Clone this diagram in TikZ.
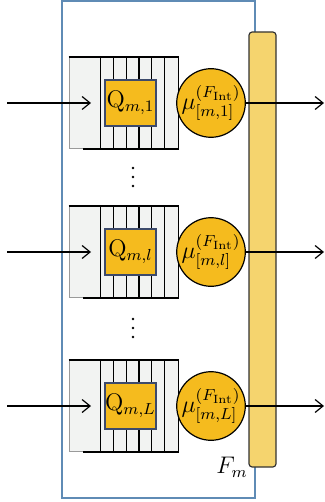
\documentclass[tikz,border=0pt]{standalone}
\usetikzlibrary{arrows.meta}
\definecolor{frameblue}{HTML}{5F8BB5}
\definecolor{barfill}{HTML}{F5D46E}
\definecolor{qfill}{HTML}{F5BB1E}
\definecolor{qedge}{HTML}{3D4A6B}
\definecolor{bufgray}{HTML}{F2F3F2}
\definecolor{bufedge}{HTML}{9A9A9A}
\begin{document}
\begin{tikzpicture}[x=0.5pt,y=-0.5pt,
  frame/.style={draw=frameblue,line width=0.6pt,minimum width=96.5pt,minimum height=248.5pt,inner sep=0pt},
  bar/.style={draw=black!80,fill=barfill,line width=0.6pt,rounded corners=1.6pt,minimum width=13.5pt,minimum height=217.5pt,inner sep=0pt},
  buf/.style={draw=bufedge,fill=bufgray,line width=0.5pt,minimum width=54.5pt,minimum height=45.5pt,inner sep=0pt},
  dk/.style={draw=black,line width=0.6pt},
  qbox/.style={draw=qedge,fill=qfill,line width=0.6pt,minimum width=25.5pt,minimum height=23pt,inner sep=0pt,font=\large},
  mu/.style={circle,draw=black,fill=qfill,line width=0.6pt,minimum size=31.5pt,inner sep=0pt,font=\large},
  dot/.style={circle,fill=black,inner sep=0pt,minimum size=1.3pt},
  arr/.style={draw=black,line width=0.6pt,-{Straight Barb[length=4pt,width=6.5pt]}}]
\useasboundingbox (0,0) rectangle (325,502);
\node[frame] (F) at (158.5,249.5) {};
\node[bar] (bar) at (262.5,249.5) {};
\foreach \k/\yc/\idx in {1/103/1,2/252/l,3/406/L}{
  \node[buf] (b\k) at (123.5,\yc) {};
  \draw[dk] (b\k.north west) -- (b\k.north east) -- (b\k.south east) -- ([xshift=7pt]b\k.south west);
  \foreach \d in {32,45,58,70.5,83,96}{
    \draw[dk] ([xshift=\d*0.5pt]b\k.north west) -- ([xshift=\d*0.5pt]b\k.south west);
  }
  \node[qbox] (q\k) at (130.5,\yc) {$\mathrm{Q}_{m,\idx}$};
  \node[mu] (m\k) at (211,\yc) {$\mu^{(F_{\mathrm{Int}})}_{[m,\idx]}$};
  \coordinate (in\k) at (7,\yc);
  \coordinate (tip\k) at (91,\yc);
  \coordinate (out\k) at (324,\yc);
  \draw[arr] (in\k) -- (tip\k);
  \draw[arr] (m\k.east) -- (out\k);
}
\foreach \g/\yy in {1/177,2/328}{
  \node[dot] (g\g a) at (133,\yy-9) {};
  \node[dot] (g\g b) at (133,\yy) {};
  \node[dot] (g\g c) at (133,\yy+9) {};
}
\node[font=\large] (fm) at (232,467) {$F_m$};
\end{tikzpicture}
\end{document}
